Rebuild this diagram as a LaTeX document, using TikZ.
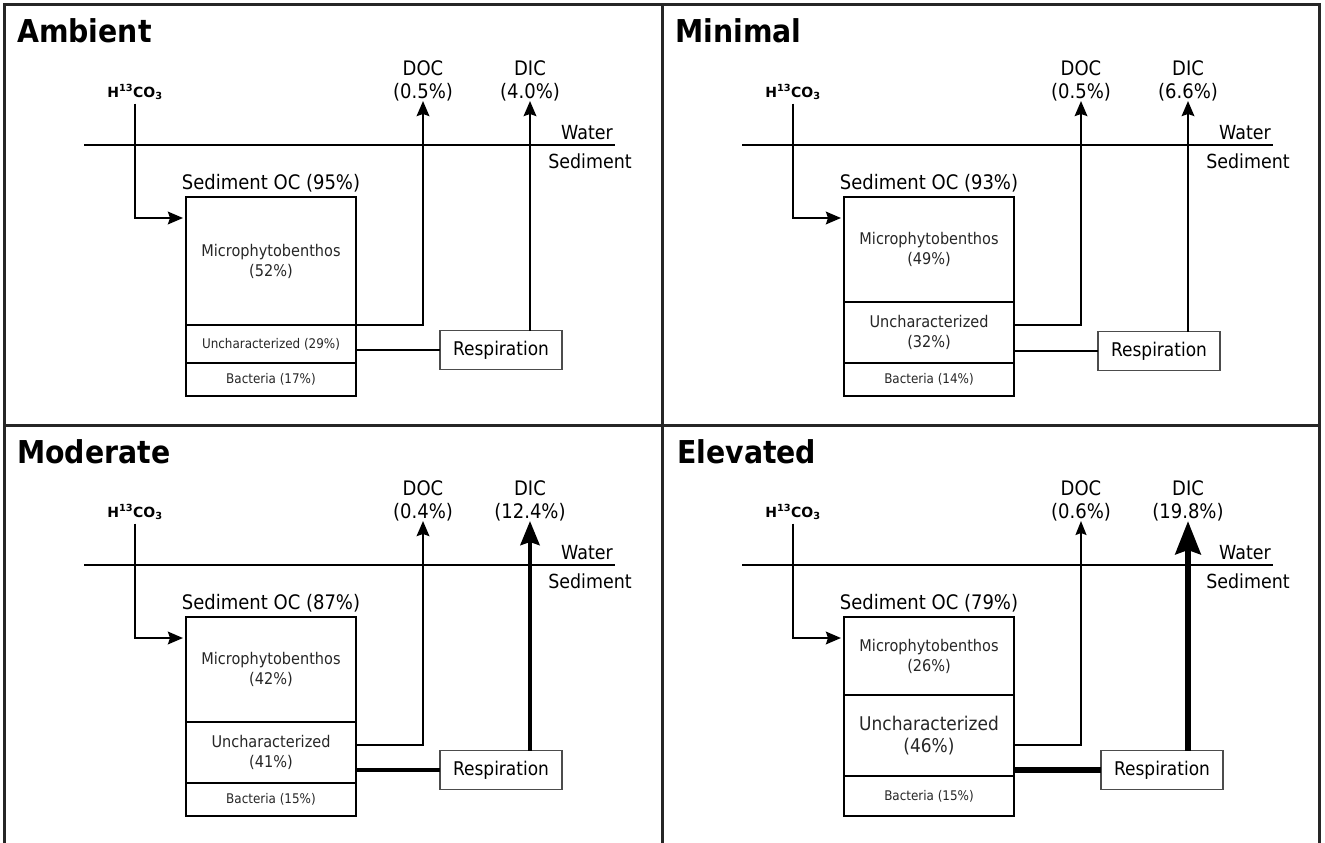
\documentclass[tikz,border=0pt]{standalone}
\usepackage{fontspec}
\setmainfont{DejaVu Sans}[FakeStretch=0.9]
\newfontfamily\plainfont{DejaVu Sans}
\usetikzlibrary{arrows.meta}
\tikzset{
  x=1pt, y=-1pt,
  border/.style={line width=3pt, black!85},
  line/.style={line width=2.5pt, black},
  arr/.style={line, -{Stealth[length=15pt,width=12.5pt,inset=2pt]}},
  title/.style={anchor=base west, inner sep=0pt, font=\fontsize{31.5}{33}\selectfont\bfseries},
  hco/.style={anchor=base, inner sep=0pt, font=\plainfont\fontsize{14}{16}\selectfont\bfseries},
  lbl/.style={inner sep=0pt, font=\fontsize{19.4}{22}\selectfont},
  big/.style={inner sep=0pt, align=center, font=\fontsize{20}{23}\selectfont},
  soc/.style={inner sep=0pt, font=\fontsize{20}{22}\selectfont},
  cell/.style={draw, line width=2.5pt, outer sep=0pt, minimum width=170pt, inner sep=0pt, align=center, anchor=north, text=black!85},
  mfont/.style={font=\fontsize{16.1}{20}\selectfont},
  sfont/.style={font=\fontsize{13.3}{15}\selectfont},
  lfont/.style={font=\fontsize{18.9}{22}\selectfont},
  resp/.style={draw=black!70, line width=1.8pt, outer sep=0pt, minimum width=122pt, minimum height=39pt, inner sep=0pt, font=\fontsize{18.9}{20}\selectfont},
}
\begin{document}
\begin{tikzpicture}
\useasboundingbox (0,0) rectangle (1325,843);
% panel frame
\draw[border] (4,843) -- (4,5) -- (1319,5) -- (1319,843);
\draw[border] (662,5) -- (662,843);
\draw[border] (4,425) -- (1319,425);

% ---------------- Ambient ----------------
\begin{scope}
\node[title] (a-t) at (17,43) {Ambient};
\node[hco] (a-h) at (135,97) {H\textsuperscript{13}CO\textsubscript{3}};
\draw[line] (84,145) -- (615,145);
\node[lbl] (a-w) at (587,133) {Water};
\node[lbl] (a-s) at (590,161) {Sediment};
\node[big, anchor=south] (a-doc) at (423,101) {DOC\\(0.5\%)};
\node[big, anchor=south] (a-dic) at (530,101) {DIC\\(4.0\%)};
\node[soc] (a-soc) at (271,183) {Sediment OC (95\%)};
\node[cell, mfont, minimum height=128pt] (a-mpb) at (271,197) {Microphytobenthos\\(52\%)};
\node[cell, sfont, minimum height=38pt] (a-unc) at (a-mpb.south) {Uncharacterized (29\%)};
\node[cell, sfont, minimum height=33pt] (a-bac) at (a-unc.south) {Bacteria (17\%)};
\node[resp] (a-resp) at (501,350) {Respiration};
\draw[arr, shorten >=3pt] ([yshift=-4pt]a-h.south) |- ([yshift=-21pt]a-mpb.north west);
\draw[arr] (a-unc.east |- 0,325) -| (a-doc.south);
\draw[line] (a-unc.east |- a-resp.west) -- (a-resp.west);
\draw[arr] (a-resp.north -| a-dic.south) -- (a-dic.south);
\end{scope}

% ---------------- Minimal ----------------
\begin{scope}[shift={(658,0)}]
\node[title] (m-t) at (17,43) {Minimal};
\node[hco] (m-h) at (135,97) {H\textsuperscript{13}CO\textsubscript{3}};
\draw[line] (84,145) -- (615,145);
\node[lbl] (m-w) at (587,133) {Water};
\node[lbl] (m-s) at (590,161) {Sediment};
\node[big, anchor=south] (m-doc) at (423,101) {DOC\\(0.5\%)};
\node[big, anchor=south] (m-dic) at (530,101) {DIC\\(6.6\%)};
\node[soc] (m-soc) at (271,183) {Sediment OC (93\%)};
\node[cell, mfont, minimum height=105pt] (m-mpb) at (271,197) {Microphytobenthos\\(49\%)};
\node[cell, mfont, minimum height=61pt] (m-unc) at (m-mpb.south) {Uncharacterized\\(32\%)};
\node[cell, sfont, minimum height=33pt] (m-bac) at (m-unc.south) {Bacteria (14\%)};
\node[resp] (m-resp) at (501,351) {Respiration};
\draw[arr, shorten >=3pt] ([yshift=-4pt]m-h.south) |- ([yshift=-21pt]m-mpb.north west);
\draw[arr] (m-unc.east |- 0,325) -| (m-doc.south);
\draw[line] (m-unc.east |- m-resp.west) -- (m-resp.west);
\draw[arr] (m-resp.north -| m-dic.south) -- (m-dic.south);
\end{scope}

% ---------------- Moderate ----------------
\begin{scope}[shift={(0,420)}]
\node[title] (o-t) at (17,43) {Moderate};
\node[hco] (o-h) at (135,97) {H\textsuperscript{13}CO\textsubscript{3}};
\draw[line] (84,145) -- (615,145);
\node[lbl] (o-w) at (587,133) {Water};
\node[lbl] (o-s) at (590,161) {Sediment};
\node[big, anchor=south] (o-doc) at (423,101) {DOC\\(0.4\%)};
\node[big, anchor=south] (o-dic) at (530,101) {DIC\\(12.4\%)};
\node[soc] (o-soc) at (271,183) {Sediment OC (87\%)};
\node[cell, mfont, minimum height=105pt] (o-mpb) at (271,197) {Microphytobenthos\\(42\%)};
\node[cell, mfont, minimum height=61pt] (o-unc) at (o-mpb.south) {Uncharacterized\\(41\%)};
\node[cell, sfont, minimum height=33pt] (o-bac) at (o-unc.south) {Bacteria (15\%)};
\node[resp] (o-resp) at (501,350) {Respiration};
\draw[arr, shorten >=3pt] ([yshift=-4pt]o-h.south) |- ([yshift=-21pt]o-mpb.north west);
\draw[arr] (o-unc.east |- 0,325) -| (o-doc.south);
\draw[line, line width=4pt] (o-unc.east |- o-resp.west) -- (o-resp.west);
\draw[line, line width=4.5pt, -{Stealth[length=24pt,width=19pt,inset=3pt]}] (o-resp.north -| o-dic.south) -- (o-dic.south);
\end{scope}

% ---------------- Elevated ----------------
\begin{scope}[shift={(658,420)}]
\node[title] (e-t) at (19,43) {Elevated};
\node[hco] (e-h) at (135,97) {H\textsuperscript{13}CO\textsubscript{3}};
\draw[line] (84,145) -- (615,145);
\node[lbl] (e-w) at (587,133) {Water};
\node[lbl] (e-s) at (590,161) {Sediment};
\node[big, anchor=south] (e-doc) at (423,101) {DOC\\(0.6\%)};
\node[big, anchor=south] (e-dic) at (530,101) {DIC\\(19.8\%)};
\node[soc] (e-soc) at (271,183) {Sediment OC (79\%)};
\node[cell, mfont, minimum height=78pt] (e-mpb) at (271,197) {Microphytobenthos\\(26\%)};
\node[cell, lfont, minimum height=81pt] (e-unc) at (e-mpb.south) {Uncharacterized\\(46\%)};
\node[cell, sfont, minimum height=40pt] (e-bac) at (e-unc.south) {Bacteria (15\%)};
\node[resp] (e-resp) at (504,350) {Respiration};
\draw[arr, shorten >=3pt] ([yshift=-4pt]e-h.south) |- ([yshift=-21pt]e-mpb.north west);
\draw[line, line width=1.6pt, -{Stealth[length=14pt,width=11pt,inset=2pt]}] (e-unc.east |- 0,325) -| (e-doc.south);
\draw[line, line width=5.5pt] (e-unc.east |- e-resp.west) -- (e-resp.west);
\draw[line, line width=6.5pt, -{Stealth[length=33pt,width=25pt,inset=4pt]}] (e-resp.north -| e-dic.south) -- (e-dic.south);
\end{scope}
\end{tikzpicture}
\end{document}
